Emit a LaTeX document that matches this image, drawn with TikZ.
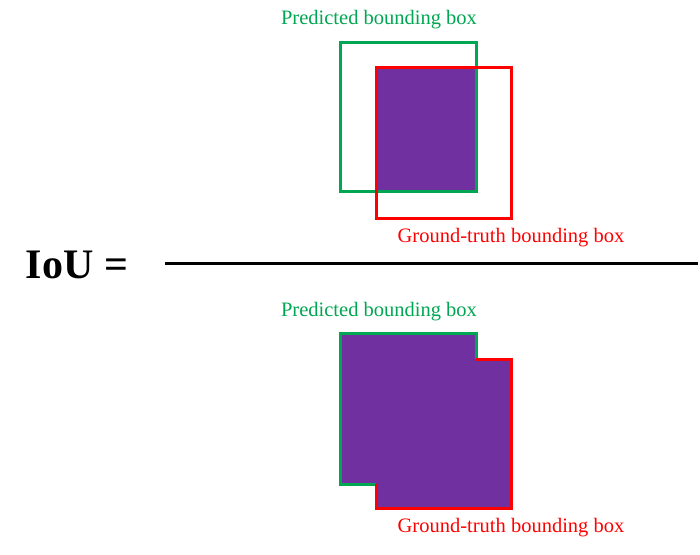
\documentclass[tikz,border=0pt]{standalone}
\usepackage{fontspec}
\setmainfont{Liberation Serif}
\begin{document}
\definecolor{gr}{RGB}{0,166,81}
\definecolor{pu}{RGB}{112,48,160}
\begin{tikzpicture}[x=1pt,y=-1pt,
  gbox/.style={draw=gr,line width=3pt},
  rbox/.style={draw=red,line width=3pt},
  lab/.style={font=\fontsize{20.5}{22}\selectfont}]
\useasboundingbox (0,0) rectangle (700,554);
% top
\fill[pu] (376,67) rectangle (476,191);
\draw[gbox] (340,42) rectangle (476,191);
\draw[rbox] (376,67) rectangle (511,218);
\node[lab,text=gr] (p1) at (379,20) {Predicted bounding box};
\node[lab,text=red] (g1) at (511,238) {Ground-truth bounding box};
% fraction
\node[font=\fontsize{42}{44}\selectfont\bfseries] (iou) at (77,265) {IoU =};
\coordinate (l1) at (165,263);
\coordinate (l2) at (698,263);
\draw[line width=3pt] (l1) -- (l2);
% bottom
\fill[pu] (340,333) -- (476,333) -- (476,359) -- (511,359) -- (511,508) -- (376,508) -- (376,484) -- (340,484) -- cycle;
\draw[gbox] (376,484) -- (340,484) -- (340,333) -- (476,333) -- (476,359);
\draw[rbox] (476,359) -- (511,359) -- (511,508) -- (376,508) -- (376,484);
\node[lab,text=gr] (p2) at (379,312) {Predicted bounding box};
\node[lab,text=red] (g2) at (511,528) {Ground-truth bounding box};
\end{tikzpicture}
\end{document}
